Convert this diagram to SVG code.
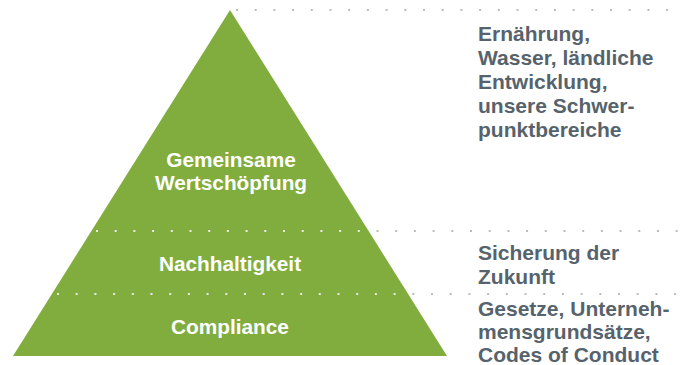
<svg xmlns="http://www.w3.org/2000/svg" width="682" height="365" viewBox="0 0 682 365">
  <style>
    .lbl { font-family: "Liberation Sans", Arial, sans-serif; font-weight: bold; font-size: 20.8px; fill: #ffffff; text-anchor: middle; }
    .side { font-family: "Liberation Sans", Arial, sans-serif; font-weight: bold; font-size: 21px; fill: #57636c; }
    .dotg { stroke: #a3a6a8; stroke-width: 1.6; stroke-dasharray: 2 16.7; fill: none; }
    .dotw { stroke: #ffffff; stroke-width: 1.6; stroke-dasharray: 2 16.7; fill: none; }
  </style>
  <defs>
    <clipPath id="tri">
      <polygon points="230,10 447,356 13,356"/>
    </clipPath>
  </defs>
  <rect width="682" height="365" fill="#ffffff"/>
  <g id="pyramid">
    <polygon points="230,10 447,356 13,356" fill="#80ad3d"/>
  </g>
  <g id="connectors">
    <line class="dotg" x1="236" y1="10" x2="682" y2="10"/>
    <line class="dotg" x1="96" y1="231" x2="682" y2="231"/>
    <line class="dotg" x1="57" y1="294" x2="682" y2="294"/>
    <g clip-path="url(#tri)">
      <line class="dotw" x1="96" y1="231" x2="682" y2="231"/>
      <line class="dotw" x1="57" y1="294" x2="682" y2="294"/>
    </g>
  </g>
  <g id="level-top">
    <text class="lbl" x="231" y="167">Gemeinsame</text>
    <text class="lbl" x="231" y="190">Wertschöpfung</text>
  </g>
  <g id="level-mid">
    <text class="lbl" x="230" y="271">Nachhaltigkeit</text>
  </g>
  <g id="level-base">
    <text class="lbl" x="230" y="334">Compliance</text>
  </g>
  <g id="desc-top">
    <text class="side" x="478" y="41">Ernährung,</text>
    <text class="side" x="478" y="65">Wasser, ländliche</text>
    <text class="side" x="478" y="89">Entwicklung,</text>
    <text class="side" x="478" y="113">unsere Schwer-</text>
    <text class="side" x="478" y="137">punktbereiche</text>
  </g>
  <g id="desc-mid">
    <text class="side" x="478" y="260">Sicherung der</text>
    <text class="side" x="478" y="284">Zukunft</text>
  </g>
  <g id="desc-base">
    <text class="side" x="478" y="316">Gesetze, Unterneh-</text>
    <text class="side" x="478" y="339">mensgrundsätze,</text>
    <text class="side" x="478" y="362">Codes of Conduct</text>
  </g>
</svg>
